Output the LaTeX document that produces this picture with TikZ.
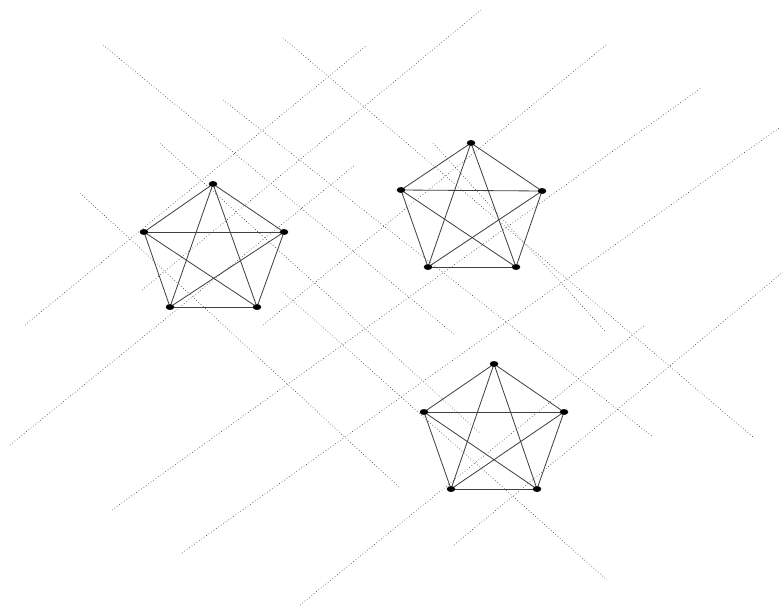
\documentclass[tikz,border=0pt]{standalone}
\usepackage{tikz}
\usetikzlibrary{shapes.geometric}

\begin{document}
\begin{tikzpicture}[x=0.03cm, y=-0.03cm,
  vtx/.style={draw, ellipse, fill=black, inner sep=0pt, minimum width=0.24cm, minimum height=0.16cm},
  kedge/.style={draw=black!75, line width=0.7pt},
  guide/.style={black!75, dotted, line width=0.55pt}]
  \useasboundingbox (0,0) rectangle (784,609);

  % dotted guide lines, rising
  \foreach \xa/\ya/\xb/\yb in {25/325/367/45, 142/290/481/10, 10/445/355/165,
      263/325/606/45, 112/510/701/88, 182/553/779/128, 300/605/645/325, 454/545/783/272}
    \draw[guide] (\xa,\ya) -- (\xb,\yb);
  % dotted guide lines, falling
  \foreach \xa/\ya/\xb/\yb in {103/45/455/335, 283/38/753/437, 223/100/653/437,
      160/143/480/433, 80/193/400/488, 283/292/607/580, 433/143/605/331}
    \draw[guide] (\xa,\ya) -- (\xb,\yb);

  % three pentagons
  \node[vtx] (A1) at (213,184) {};
  \node[vtx] (A2) at (284,232) {};
  \node[vtx] (A3) at (257,307) {};
  \node[vtx] (A4) at (170,307) {};
  \node[vtx] (A5) at (144,232) {};

  \node[vtx] (B1) at (471,143) {};
  \node[vtx] (B2) at (542,191) {};
  \node[vtx] (B3) at (516,267) {};
  \node[vtx] (B4) at (428,267) {};
  \node[vtx] (B5) at (401,190) {};

  \node[vtx] (C1) at (494,364) {};
  \node[vtx] (C2) at (564,412) {};
  \node[vtx] (C3) at (537,489) {};
  \node[vtx] (C4) at (451,489) {};
  \node[vtx] (C5) at (424,412) {};

  \foreach \p in {A,B,C}
    \foreach \i/\j in {1/2,1/3,1/4,1/5,2/3,2/4,2/5,3/4,3/5,4/5}
      \draw[kedge] (\p\i) -- (\p\j);
\end{tikzpicture}
\end{document}
